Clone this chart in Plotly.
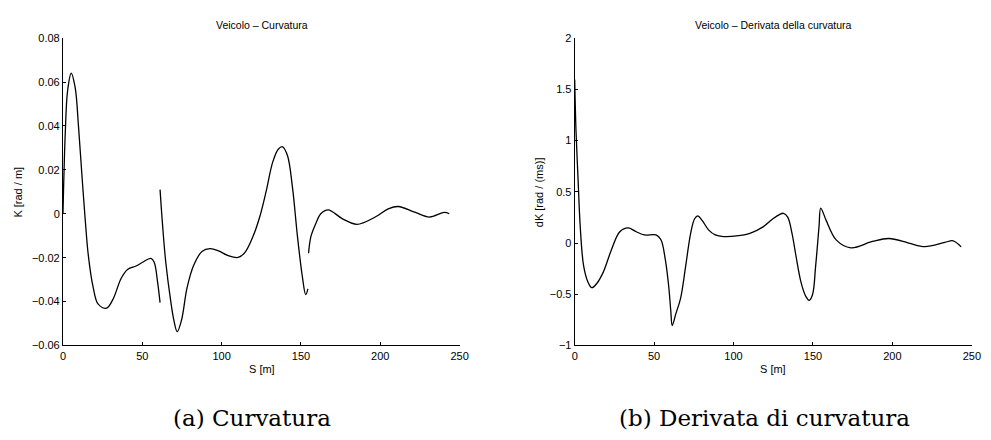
import plotly.graph_objects as go

# Curvature K [rad/m] vs S [m] - three separate segments
k_seg1_s = [0, 0.4, 1.45, 2.9, 5.2, 7.7, 9.8, 11.8, 13.9, 16.0, 19.1, 22.2, 27.4, 31.5, 36.7, 40.9, 46.1, 50.2, 55.4, 57.5, 59.6, 61.2]
k_seg1_v = [0, 0.0118, 0.0368, 0.0559, 0.064, 0.0574, 0.0397, 0.0191, -0.0015, -0.0191, -0.0338, -0.0412, -0.043, -0.039, -0.0294, -0.0253, -0.0238, -0.0221, -0.0203, -0.0221, -0.0309, -0.0405]

k_seg2_s = [61.2, 62.7, 64.8, 67.9, 69.9, 72.0, 74.7, 78.2, 82.4, 87.6, 92.8, 98.0, 104.2, 110.4, 114.6, 119.8, 124.0, 128.1, 132.2, 135.7, 138.4, 141.5, 144.7, 147.8, 150.9, 153.0, 154.4]
k_seg2_v = [0.011, -0.0044, -0.0221, -0.0397, -0.0485, -0.0537, -0.0485, -0.0338, -0.0235, -0.0172, -0.0159, -0.0169, -0.0191, -0.0199, -0.0177, -0.0103, -0.0015, 0.0103, 0.0235, 0.0294, 0.0305, 0.0265, 0.0118, -0.0103, -0.0287, -0.0368, -0.0342]

k_seg3_s = [154.8, 156.3, 159.4, 162.5, 167.2, 176.0, 185.3, 196.8, 205.0, 211.3, 221.7, 231.0, 240.3, 243.5]
k_seg3_v = [-0.018, -0.0103, -0.0044, 0.0, 0.0018, -0.0022, -0.0048, -0.0015, 0.0022, 0.0033, 0.0007, -0.0015, 0.0006, 0.0]

# Curvature derivative dK vs S
dk_s = [0, 0.8, 2.1, 3.5, 5.6, 8.3, 10.8, 13.9, 18.0, 23.2, 28.4, 33.6, 38.8, 43.9, 51.2, 54.3, 57.0, 59.1, 60.5, 61.4,
        63.6, 66.7, 69.9, 73.0, 75.5, 77.5, 80.2, 84.4, 88.5, 93.7, 102.0, 110.3, 118.6, 124.8, 128.9, 131.4, 134.1, 136.8,
        139.3, 142.4, 145.5, 147.6, 149.7, 151.7, 153.8, 154.9, 158.3, 164.6, 173.9, 187.4, 197.8, 210.2, 220.5, 233.0, 238.2, 243.3]
dk_v = [1.595, 1.105, 0.631, 0.158, -0.221, -0.379, -0.436, -0.395, -0.284, -0.063, 0.110, 0.148, 0.110, 0.079, 0.079, 0.032, -0.158, -0.410, -0.663, -0.805,
        -0.694, -0.537, -0.221, 0.095, 0.237, 0.265, 0.221, 0.126, 0.079, 0.063, 0.069, 0.095, 0.158, 0.237, 0.278, 0.290, 0.253, 0.095,
        -0.126, -0.379, -0.521, -0.559, -0.505, -0.221, 0.158, 0.341, 0.221, 0.031, -0.047, 0.015, 0.044, 0.0, -0.035, 0.006, 0.022, -0.038]

x_ticks = [0, 50, 100, 150, 200, 250]
k_ticks = [-0.06, -0.04, -0.02, 0, 0.02, 0.04, 0.06, 0.08]
dk_ticks = [-1, -0.5, 0, 0.5, 1, 1.5, 2]

titles = ["Veicolo \u2013 Curvatura", "Veicolo \u2013 Derivata della curvatura"]
captions = ["(a) Curvatura", "(b) Derivata di curvatura"]

W, H = 991, 440
sans = "Liberation Sans, Arial, Helvetica, sans-serif"
serif = "DejaVu Serif, Liberation Serif, serif"

fig = go.Figure()
line = dict(color="black", width=1.3, shape="spline", smoothing=1.0)
for s, v in [(k_seg1_s, k_seg1_v), (k_seg2_s, k_seg2_v), (k_seg3_s, k_seg3_v)]:
    fig.add_trace(go.Scatter(x=s, y=v, mode="lines", line=line, xaxis="x", yaxis="y", showlegend=False, hoverinfo="skip"))
fig.add_trace(go.Scatter(x=dk_s, y=dk_v, mode="lines", line=line,
                         xaxis="x2", yaxis="y2", showlegend=False, hoverinfo="skip"))

ydom = [1 - 349 / H, 1 - 33 / H]
axcommon = dict(showgrid=False, zeroline=False, showline=True, linecolor="black", linewidth=1,
                ticks="inside", ticklen=3, tickcolor="black", tickwidth=1,
                tickfont=dict(family=sans, size=11, color="black"), mirror=False)

fig.update_layout(
    width=W, height=H, margin=dict(l=0, r=0, t=0, b=0),
    paper_bgcolor="white", plot_bgcolor="white",
    xaxis=dict(domain=[60.7 / W, 462.2 / W], range=[0, 250], tickvals=x_ticks, anchor="y", **axcommon),
    yaxis=dict(domain=ydom, range=[-0.06, 0.08], tickvals=k_ticks, anchor="x", **axcommon),
    xaxis2=dict(domain=[578.7 / W, 980.7 / W], range=[0, 250], tickvals=x_ticks, anchor="y2", **axcommon),
    yaxis2=dict(domain=ydom, range=[-1, 2], tickvals=dk_ticks, anchor="x2", **axcommon),
)

ann = []
ann.append(dict(text=titles[0], x=262 / W, y=1 - 20 / H, xref="paper", yref="paper", showarrow=False,
                font=dict(family=sans, size=10.5, color="black"), xanchor="center", yanchor="middle"))
ann.append(dict(text=titles[1], x=780 / W, y=1 - 20 / H, xref="paper", yref="paper", showarrow=False,
                font=dict(family=sans, size=10.5, color="black"), xanchor="center", yanchor="middle"))
ann.append(dict(text="S [m]", x=262 / W, y=1 - 373 / H, xref="paper", yref="paper", showarrow=False,
                font=dict(family=sans, size=11, color="black"), xanchor="center", yanchor="middle"))
ann.append(dict(text="S [m]", x=779 / W, y=1 - 373 / H, xref="paper", yref="paper", showarrow=False,
                font=dict(family=sans, size=11, color="black"), xanchor="center", yanchor="middle"))
ann.append(dict(text="K [rad / m]", x=15 / W, y=1 - 191 / H, xref="paper", yref="paper", showarrow=False, textangle=-90,
                font=dict(family=sans, size=11, color="black"), xanchor="center", yanchor="middle"))
ann.append(dict(text="dK [rad / (ms)]", x=542 / W, y=1 - 191 / H, xref="paper", yref="paper", showarrow=False, textangle=-90,
                font=dict(family=sans, size=11, color="black"), xanchor="center", yanchor="middle"))
ann.append(dict(text=captions[0], x=252 / W, y=1 - 424 / H, xref="paper", yref="paper", showarrow=False,
                font=dict(family=serif, size=23, color="black"), xanchor="center", yanchor="middle"))
ann.append(dict(text=captions[1], x=771 / W, y=1 - 424 / H, xref="paper", yref="paper", showarrow=False,
                font=dict(family=serif, size=23, color="black"), xanchor="center", yanchor="middle"))
fig.update_layout(annotations=ann)

fig.write_html("out.html")
